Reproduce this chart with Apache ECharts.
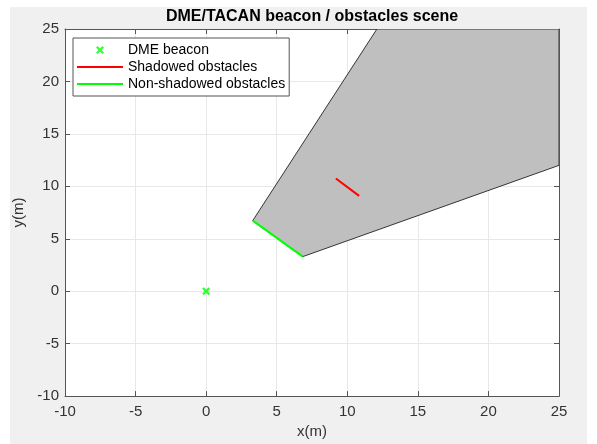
<!DOCTYPE html>
<html>
<head>
<meta charset="utf-8">
<script src="https://cdn.jsdelivr.net/npm/echarts@6/dist/echarts.min.js"></script>
<style>
    html, body { margin: 0; padding: 0; background: #fff; }
    #chart { width: 597px; height: 444px; }
</style>
</head>
<body>
<div id="chart"></div>
<script>
// axis limits
const xMin = -10, xMax = 25, yMin = -10, yMax = 25, step = 5;

// beacon position
const beaconX = [0];
const beaconY = [0];

// shadow region (polygon vertices)
const shadowX = [3.3, 6.85, 25, 25, 12.1];
const shadowY = [6.73, 3.3, 12, 25, 25];

// obstacles
const shadowedX = [9.19, 10.84];
const shadowedY = [10.75, 9.09];
const visibleX = [3.3, 6.85];
const visibleY = [6.73, 3.3];

const xPath = 'path://M0,2L2,0L5,3L8,0L10,2L7,5L10,8L8,10L5,7L2,10L0,8L3,5Z';
const linePath = 'path://M0,0H46V2H0Z';
const axisColor = '#555';
const labelColor = '#333';
const font = 'Arial, "Liberation Sans", sans-serif';

function pairs(xs, ys) {
    return xs.map((x, i) => [x, ys[i]]);
}

let chart = echarts.init(document.getElementById('chart'));

const baseAxis = {
    type: 'value',
    min: xMin,
    max: xMax,
    interval: step,
    axisLine: { show: true, onZero: false, lineStyle: { color: axisColor, width: 1 } },
    axisTick: { show: true, inside: true, length: 5, lineStyle: { color: axisColor } }
};

let options = {
    backgroundColor: '#fff',
    animation: false,
    textStyle: { fontFamily: font },
    graphic: {
        elements: [{
            type: 'rect',
            z: -10,
            shape: { x: 10, y: 7, width: 577, height: 437 },
            style: { fill: '#f0f0f0' }
        }]
    },
    title: {
        text: 'DME/TACAN beacon / obstacles scene',
        left: 312,
        top: 9,
        textAlign: 'center',
        padding: 0,
        textStyle: { fontSize: 16, fontWeight: 'bold', color: '#000', fontFamily: font }
    },
    legend: {
        orient: 'vertical',
        left: 73,
        top: 38,
        padding: [4, 4, 4, 4],
        backgroundColor: '#fff',
        borderColor: axisColor,
        borderWidth: 1,
        borderRadius: 0,
        itemWidth: 46,
        itemHeight: 8,
        itemGap: 1,
        textStyle: { fontSize: 14, color: '#000', lineHeight: 16, fontFamily: font },
        data: [
            { name: 'DME beacon', icon: xPath },
            { name: 'Shadowed obstacles', icon: linePath },
            { name: 'Non-shadowed obstacles', icon: linePath }
        ]
    },
    grid: {
        left: 65,
        right: 38,
        top: 29,
        bottom: 44,
        show: true,
        backgroundColor: '#fff',
        borderWidth: 0
    },
    xAxis: [
        Object.assign({}, baseAxis, {
            position: 'bottom',
            name: 'x(m)',
            nameLocation: 'middle',
            nameGap: 17,
            nameTextStyle: { fontSize: 15, color: labelColor },
            axisLabel: { fontSize: 15, color: labelColor, margin: 8 },
            splitLine: { show: true, lineStyle: { color: '#e8e8e8' } }
        }),
        Object.assign({}, baseAxis, {
            position: 'top',
            axisLabel: { show: false },
            splitLine: { show: false }
        })
    ],
    yAxis: [
        Object.assign({}, baseAxis, {
            min: yMin,
            max: yMax,
            position: 'left',
            name: 'y(m)',
            nameLocation: 'middle',
            nameGap: 33,
            nameTextStyle: { fontSize: 15, color: labelColor },
            axisLabel: { fontSize: 15, color: labelColor, margin: 6 },
            splitLine: { show: true, lineStyle: { color: '#e8e8e8' } }
        }),
        Object.assign({}, baseAxis, {
            min: yMin,
            max: yMax,
            position: 'right',
            axisLabel: { show: false },
            splitLine: { show: false }
        })
    ],
    series: [
        {
            name: 'shadow',
            type: 'custom',
            xAxisIndex: 0,
            yAxisIndex: 0,
            clip: true,
            z: 1,
            data: pairs(shadowX, shadowY),
            renderItem: function(params, api) {
                if (params.dataIndex !== 0) return null;
                const pts = shadowX.map((x, i) => api.coord([x, shadowY[i]]));
                return {
                    type: 'polygon',
                    shape: { points: pts },
                    style: { fill: '#bfbfbf', stroke: '#333', lineWidth: 1 }
                };
            }
        },
        {
            name: 'DME beacon',
            type: 'scatter',
            z: 4,
            symbol: xPath,
            symbolSize: 8,
            itemStyle: { color: '#00ff00' },
            data: pairs(beaconX, beaconY)
        },
        {
            name: 'Shadowed obstacles',
            type: 'line',
            z: 3,
            symbol: 'none',
            lineStyle: { color: '#ff0000', width: 2 },
            itemStyle: { color: '#ff0000' },
            data: pairs(shadowedX, shadowedY)
        },
        {
            name: 'Non-shadowed obstacles',
            type: 'line',
            z: 3,
            symbol: 'none',
            lineStyle: { color: '#00ff00', width: 2 },
            itemStyle: { color: '#00ff00' },
            data: pairs(visibleX, visibleY)
        }
    ]
};
chart.setOption(options);
</script>
</body>
</html>
